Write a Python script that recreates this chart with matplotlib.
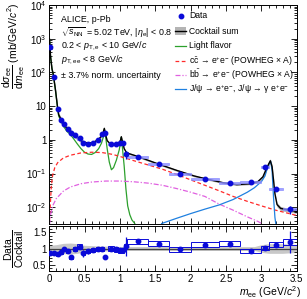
import numpy as np
import matplotlib
matplotlib.use("Agg")
import matplotlib.pyplot as plt
from matplotlib.patches import Rectangle
from matplotlib.lines import Line2D
from matplotlib.ticker import FixedLocator, FixedFormatter, MultipleLocator

plt.rcParams['font.family'] = ['Liberation Sans', 'DejaVu Sans']
plt.rcParams['mathtext.fontset'] = 'custom'
plt.rcParams['mathtext.rm'] = 'Liberation Sans'
plt.rcParams['mathtext.it'] = 'Liberation Sans:italic'
plt.rcParams['mathtext.bf'] = 'Liberation Sans:bold'

# data points (bin centre, half width, value)
data_x = [0.015, 0.07, 0.12, 0.17, 0.21, 0.26, 0.31, 0.37, 0.43, 0.48, 0.55, 0.62, 0.69, 0.75,
          0.79, 0.87, 0.95, 1.0, 1.04, 1.08, 1.25, 1.55, 1.85, 2.2, 2.55, 2.85, 3.05, 3.2, 3.4]
data_hw = [0.01, 0.02, 0.02, 0.02, 0.02, 0.02, 0.03, 0.03, 0.03, 0.02, 0.03, 0.03, 0.03, 0.02,
           0.02, 0.04, 0.03, 0.02, 0.02, 0.02, 0.15, 0.15, 0.15, 0.2, 0.15, 0.15, 0.05, 0.1, 0.1]
data_y = [560, 75, 8.5, 3.9, 2.9, 2.1, 1.65, 1.35, 1.1, 0.79, 0.78, 0.82, 0.99, 1.45,
          1.65, 0.78, 0.78, 0.8, 0.83, 0.37, 0.32, 0.19, 0.10, 0.067, 0.052, 0.055, 0.16, 0.034, 0.0087]
ratio_y = [0.85, 0.86, 0.83, 0.88, 0.99, 0.92, 0.73, 0.98, 1.06, 0.85, 0.91, 0.96, 0.99, 0.99,
           0.73, 1.0, 0.97, 0.94, 0.94, 1.07, 1.22, 1.15, 0.97, 1.12, 1.15, 0.92, 1.01, 1.12, 1.2]
ratio_stat = [0.04, 0.04, 0.04, 0.03, 0.03, 0.04, 0.06, 0.04, 0.07, 0.1, 0.08, 0.05, 0.05, 0.05,
              0.06, 0.05, 0.05, 0.06, 0.06, 0.3, 0.04, 0.05, 0.06, 0.05, 0.05, 0.03, 0.03, 0.08, 0.35]
sys_rel = 0.07

# cocktail sum
cs_x = [0.004, 0.01, 0.02, 0.04, 0.06, 0.09, 0.12, 0.135, 0.16, 0.2, 0.25, 0.3, 0.35, 0.4, 0.45,
        0.5, 0.55, 0.6, 0.65, 0.7, 0.74, 0.765, 0.78, 0.795, 0.82, 0.86, 0.9, 0.95, 0.99, 1.01,
        1.02, 1.035, 1.06, 1.09, 1.13, 1.2, 1.35, 1.55, 1.8, 2.05, 2.25, 2.45, 2.65, 2.85, 2.95,
        3.02, 3.07, 3.1, 3.125, 3.15, 3.17, 3.19, 3.22, 3.27, 3.35, 3.5]
cs_y = [1000, 700, 300, 130, 85, 30, 9.0, 5.6, 4.4, 3.0, 2.2, 1.8, 1.45, 1.15, 0.95,
        0.85, 0.8, 0.82, 0.9, 1.05, 1.3, 1.7, 2.2, 1.5, 0.95, 0.77, 0.73, 0.74, 0.82, 1.0,
        1.24, 0.9, 0.55, 0.43, 0.39, 0.35, 0.27, 0.19, 0.125, 0.085, 0.067, 0.054, 0.047, 0.050, 0.058,
        0.08, 0.14, 0.19, 0.24, 0.16, 0.065, 0.025, 0.012, 0.0093, 0.0085, 0.0075]
cs_unc = [0.1, 0.1, 0.1, 0.1, 0.1, 0.12, 0.12, 0.14, 0.16, 0.16, 0.17, 0.17, 0.16, 0.15, 0.13,
          0.1, 0.09, 0.08, 0.08, 0.08, 0.08, 0.08, 0.08, 0.08, 0.07, 0.07, 0.07, 0.07, 0.07, 0.07,
          0.07, 0.07, 0.06, 0.06, 0.06, 0.06, 0.06, 0.06, 0.06, 0.06, 0.06, 0.06, 0.06, 0.06, 0.08,
          0.12, 0.14, 0.15, 0.15, 0.15, 0.15, 0.15, 0.15, 0.14, 0.13, 0.12]

# light flavour
lf_x = [0.004, 0.01, 0.02, 0.04, 0.06, 0.09, 0.12, 0.135, 0.16, 0.2, 0.25, 0.3, 0.35, 0.4, 0.45,
        0.5, 0.55, 0.6, 0.65, 0.7, 0.74, 0.765, 0.78, 0.795, 0.82, 0.85, 0.88, 0.91, 0.95, 0.99,
        1.01, 1.02, 1.035, 1.06, 1.085, 1.11, 1.14, 1.17, 1.21]
lf_y = [1000, 700, 300, 128, 84, 29, 8.5, 5.1, 3.9, 2.6, 1.8, 1.45, 1.05, 0.75, 0.55,
        0.43, 0.38, 0.37, 0.42, 0.55, 0.8, 1.2, 2.1, 1.4, 0.55, 0.22, 0.13, 0.15, 0.25, 0.5,
        0.85, 1.2, 0.6, 0.17, 0.035, 0.011, 0.006, 0.0042, 0.0033]

# open charm
cc_x = [0.005, 0.015, 0.03, 0.05, 0.08, 0.12, 0.2, 0.3, 0.45, 0.6, 0.75, 0.9, 1.05, 1.2, 1.4,
        1.6, 1.8, 2.0, 2.2, 2.4, 2.6, 2.8, 3.0, 3.2, 3.5]
cc_y = [0.004, 0.01, 0.04, 0.09, 0.15, 0.21, 0.29, 0.35, 0.41, 0.43, 0.42, 0.37, 0.3, 0.24, 0.18,
        0.135, 0.095, 0.065, 0.045, 0.031, 0.021, 0.015, 0.011, 0.0082, 0.0057]

# open beauty
bb_x = [0.005, 0.02, 0.05, 0.1, 0.2, 0.3, 0.45, 0.6, 0.8, 1.0, 1.2, 1.4, 1.6, 1.8, 2.0, 2.2,
        2.4, 2.6, 2.8, 2.95, 3.0]
bb_y = [0.003, 0.006, 0.011, 0.018, 0.03, 0.04, 0.05, 0.056, 0.06, 0.06, 0.057, 0.052, 0.045,
        0.036, 0.028, 0.021, 0.0125, 0.0082, 0.0052, 0.0038, 0.0033]

# J/psi
jp_x = [1.59, 1.8, 2.0, 2.2, 2.4, 2.6, 2.8, 2.9, 3.0, 3.05, 3.08, 3.11, 3.13, 3.15, 3.17, 3.19, 3.21]
jp_y = [0.0033, 0.0047, 0.0065, 0.0088, 0.0117, 0.017, 0.028, 0.038, 0.058, 0.085, 0.14, 0.2,
        0.23, 0.12, 0.02, 0.005, 0.0025]

# ratio band (cocktail uncertainty)
band_x = [0.0, 0.1, 0.2, 0.3, 0.4, 0.5, 0.7, 0.9, 1.1, 1.5, 2.0, 2.5, 2.9, 3.0, 3.1, 3.3, 3.5]
band_u = [0.1, 0.12, 0.16, 0.17, 0.15, 0.1, 0.08, 0.07, 0.06, 0.06, 0.06, 0.06, 0.06, 0.12,
          0.15, 0.15, 0.12]

blue = '#0a0ad8'
box_blue = '#8a8cff'
green = '#2ca02c'
red = '#ff2a2a'
magenta = '#e060e0'
azure = '#1f80e0'
ms = 3.2

fig = plt.figure(figsize=(3.07, 2.99), dpi=100)
ax = fig.add_axes([0.160, 0.251, 0.807, 0.732])
rax = fig.add_axes([0.160, 0.0936, 0.807, 0.1505])

dx = np.array(data_x)
dhw = np.array(data_hw)
dy = np.array(data_y)
ry = np.array(ratio_y)
rs = np.array(ratio_stat)

# top panel
csx = np.array(cs_x)
csy = np.array(cs_y)
csu = np.array(cs_unc)
ax.fill_between(csx, csy * (1 - csu), csy * (1 + csu), color='#b4b4b4', lw=0, zorder=1)
ax.plot(lf_x, lf_y, color=green, lw=0.9, zorder=2)
ax.plot(cc_x, cc_y, color=red, lw=0.9, ls=(0, (3, 2)), zorder=2)
ax.plot(bb_x, bb_y, color=magenta, lw=0.9, ls=(0, (4, 1.5, 1, 1.5)), zorder=2)
ax.plot(jp_x, jp_y, color=azure, lw=0.9, zorder=2)
ax.plot(csx, csy, color='black', lw=1.0, zorder=3)

for x, w, y in zip(dx, dhw, dy):
    ax.add_patch(Rectangle((x - w, y * (1 - sys_rel)), 2 * w, 2 * sys_rel * y,
                           facecolor=box_blue, edgecolor=box_blue, lw=0.6, alpha=0.8, zorder=4))
ax.errorbar(dx, dy, yerr=dy * rs / ry, fmt='o', color=blue, ms=ms, elinewidth=0.9,
            capsize=0, zorder=5)

ax.set_yscale('log')
ax.set_xlim(0, 3.5)
ax.set_ylim(3.2e-3, 1e4)
ax.yaxis.set_major_locator(FixedLocator([1e-2, 1e-1, 1, 10, 1e2, 1e3, 1e4]))
ax.yaxis.set_major_formatter(FixedFormatter(['$10^{-2}$', '$10^{-1}$', '1', '10',
                                             '$10^{2}$', '$10^{3}$', '$10^{4}$']))
ax.xaxis.set_major_locator(MultipleLocator(0.5))
ax.xaxis.set_minor_locator(MultipleLocator(0.1))
ax.tick_params(axis='x', labelbottom=False)

# ratio panel
bx = np.array(band_x)
bu = np.array(band_u)
rax.fill_between(bx, 1 - bu, 1 + bu, color='#c8c8c8', lw=0, zorder=1)
rax.axhline(1, color='#404040', lw=0.9, zorder=2)
for x, w, y in zip(dx, dhw, ry):
    rax.add_patch(Rectangle((x - w, y * (1 - sys_rel)), 2 * w, 2 * sys_rel * y,
                            facecolor='none', edgecolor=blue, lw=0.7, zorder=3))
rax.errorbar(dx, ry, yerr=rs, fmt='o', color=blue, ms=ms, elinewidth=0.9, capsize=0, zorder=4)
rax.set_xlim(0, 3.5)
rax.set_ylim(0.3, 1.7)
rax.xaxis.set_major_locator(FixedLocator([0, 0.5, 1, 1.5, 2, 2.5, 3, 3.5]))
rax.xaxis.set_major_formatter(FixedFormatter(['0', '0.5', '1', '1.5', '2', '2.5', '3', '3.5']))
rax.xaxis.set_minor_locator(MultipleLocator(0.1))
rax.yaxis.set_major_locator(FixedLocator([0.5, 1, 1.5]))
rax.yaxis.set_major_formatter(FixedFormatter(['0.5', '1', '1.5']))
rax.yaxis.set_minor_locator(MultipleLocator(0.1))

for a in (ax, rax):
    a.tick_params(which='both', direction='in', top=True, right=True, width=0.6,
                  labelsize=7, pad=2)
    a.tick_params(which='major', length=4.5)
    a.tick_params(which='minor', length=2.3)
    for s in a.spines.values():
        s.set_linewidth(0.7)

# texts
fig.text(14 / 307, 1 - 3 / 299,
         r'$\dfrac{\mathrm{d}\sigma_{\mathrm{ee}}}{\mathrm{d}m_{\mathrm{ee}}}$ (mb/GeV/$c^{2}$)',
         rotation=90, ha='center', va='top', fontsize=7.5)
fig.text(14 / 307, 1 - 249 / 299, r'$\dfrac{\mathrm{Data}}{\mathrm{Cocktail}}$',
         rotation=90, ha='center', va='center', fontsize=7.5)
fig.text(301 / 307, 1 - 292 / 299, r'$m_{\mathrm{ee}}$ (GeV/$c^{2}$)',
         ha='right', va='center', fontsize=7.5)

tx = 61 / 307
lines = ['ALICE, p-Pb',
         r'$\sqrt{s_{\mathrm{NN}}}$ = 5.02 TeV, |$\eta_{\mathrm{e}}$| < 0.8',
         r'0.2 < $p_{\mathrm{T,e}}$ < 10 GeV/$c$',
         r'$p_{\mathrm{T,ee}}$ < 8 GeV/$c$',
         '± 3.7% norm. uncertainty']
ys = [20, 33, 46, 60, 75]
for t, y in zip(lines, ys):
    fig.text(tx, 1 - y / 299, t, ha='left', va='center', fontsize=6.4)

# legend, drawn row by row
labels = ['Data', 'Cocktail sum', 'Light flavor',
          r'c$\mathrm{\bar{c}}$ → e$^{+}$e$^{-}$ (POWHEG × A)',
          r'b$\mathrm{\bar{b}}$ → e$^{+}$e$^{-}$ (POWHEG × A)',
          'J/ψ → e$^{+}$e$^{-}$, J/ψ → γ e$^{+}$e$^{-}$']
row_y = [16, 31, 46, 61, 75, 89]
styles = [None, None, dict(color=green, ls='-'), dict(color=red, ls=(0, (3, 2))),
          dict(color=magenta, ls=(0, (4, 1.5, 1, 1.5))), dict(color=azure, ls='-')]
hx0, hx1, ltx = 175 / 307, 186 / 307, 189 / 307
for lab, yy, st in zip(labels, row_y, styles):
    yf = 1 - yy / 299
    if lab == 'Data':
        fig.add_artist(Line2D([(hx0 + hx1) / 2], [yf], marker='o', color=blue, ms=ms,
                              ls='none', transform=fig.transFigure))
    elif lab == 'Cocktail sum':
        fig.add_artist(Rectangle((hx0, yf - 4 / 299), hx1 - hx0, 8 / 299, facecolor='#b4b4b4',
                                 edgecolor='none', transform=fig.transFigure))
        fig.add_artist(Line2D([hx0, hx1], [yf, yf], color='black', lw=1.0,
                              transform=fig.transFigure))
    else:
        fig.add_artist(Line2D([hx0, hx1], [yf, yf], lw=0.9, transform=fig.transFigure, **st))
    fig.text(ltx, yf, lab, ha='left', va='center', fontsize=6.2)

fig.savefig('out.png', dpi=100)
